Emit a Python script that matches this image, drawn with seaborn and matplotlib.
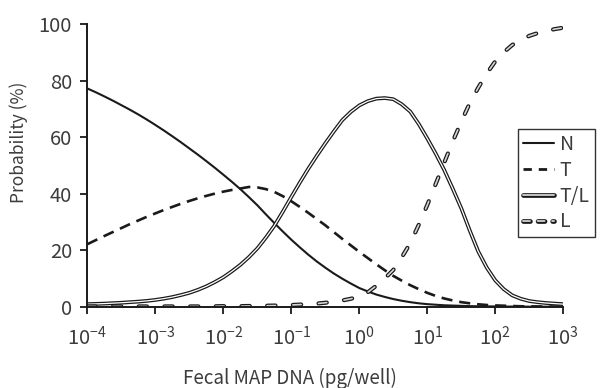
import numpy as np
import pandas as pd
import matplotlib
matplotlib.use("Agg")
import matplotlib.pyplot as plt
import matplotlib.patheffects as pe
from matplotlib.lines import Line2D
from matplotlib.ticker import NullLocator
import seaborn as sns

# x positions: log10 of fecal MAP DNA (pg/well), every 1/8 decade
log_dna = [-4.0, -3.875, -3.75, -3.625, -3.5, -3.375, -3.25, -3.125,
           -3.0, -2.875, -2.75, -2.625, -2.5, -2.375, -2.25, -2.125,
           -2.0, -1.875, -1.75, -1.625, -1.5, -1.375, -1.25, -1.125,
           -1.0, -0.875, -0.75, -0.625, -0.5, -0.375, -0.25, -0.125,
           0.0, 0.125, 0.25, 0.375, 0.5, 0.625, 0.75, 0.875,
           1.0, 1.125, 1.25, 1.375, 1.5, 1.625, 1.75, 1.875,
           2.0, 2.125, 2.25, 2.375, 2.5, 2.625, 2.75, 2.875, 3.0]

# probabilities (%)
prob_n = [77.2, 75.85, 74.4, 72.9, 71.3, 69.7, 68.0, 66.2,
          64.3, 62.35, 60.3, 58.2, 56.0, 53.8, 51.5, 49.15,
          46.7, 44.2, 41.6, 38.8, 35.9, 32.7, 29.6, 26.6,
          23.7, 21.0, 18.4, 16.0, 13.8, 11.75, 9.9, 8.2,
          6.6, 5.4, 4.3, 3.45, 2.7, 2.1, 1.6, 1.2,
          0.9, 0.7, 0.5, 0.4, 0.3, 0.2, 0.15, 0.1,
          0.1, 0.05, 0.05, 0.05, 0.0, 0.0, 0.0, 0.0, 0.0]
prob_t = [22.1, 23.55, 25.0, 26.4, 27.8, 29.2, 30.5, 31.8,
          33.0, 34.2, 35.3, 36.4, 37.4, 38.35, 39.2, 40.0,
          40.7, 41.3, 41.8, 42.35, 42.2, 41.6, 40.6, 39.1,
          37.3, 35.3, 33.2, 31.0, 28.8, 26.4, 24.0, 21.7,
          19.4, 17.2, 15.0, 12.9, 10.9, 9.2, 7.6, 6.2,
          4.9, 3.8, 2.9, 2.2, 1.6, 1.2, 0.85, 0.6,
          0.45, 0.35, 0.25, 0.15, 0.1, 0.08, 0.05, 0.02, 0.0]
prob_tl = [0.9, 1.0, 1.1, 1.25, 1.4, 1.6, 1.8, 2.05,
           2.4, 2.85, 3.4, 4.1, 4.9, 5.95, 7.2, 8.7,
           10.4, 12.5, 14.8, 17.5, 20.6, 24.4, 28.6, 33.6,
           38.8, 43.9, 48.8, 53.4, 57.8, 62.0, 66.0, 68.9,
           71.2, 72.7, 73.6, 73.8, 73.4, 71.6, 69.0, 64.6,
           59.5, 54.1, 48.3, 41.7, 34.8, 26.9, 19.5, 13.8,
           9.3, 6.2, 4.0, 2.8, 2.0, 1.6, 1.3, 1.1, 0.9]
prob_l = [0.1, 0.1, 0.1, 0.1, 0.1, 0.1, 0.1, 0.1,
          0.1, 0.1, 0.1, 0.1, 0.1, 0.1, 0.1, 0.15,
          0.2, 0.2, 0.2, 0.25, 0.3, 0.35, 0.4, 0.5,
          0.6, 0.75, 0.9, 1.1, 1.4, 1.75, 2.2, 2.8,
          3.6, 5.1, 7.4, 10.0, 13.0, 17.5, 22.5, 29.0,
          36.0, 43.5, 51.0, 58.5, 65.5, 72.0, 77.5, 82.5,
          86.8, 90.0, 92.6, 94.4, 95.8, 96.8, 97.5, 98.2, 98.7]

groups = ["N", "T", "T/L", "L"]
x_ticks = [1e-4, 1e-3, 1e-2, 1e-1, 1e0, 1e1, 1e2, 1e3]
y_ticks = [0, 20, 40, 60, 80, 100]

df = pd.DataFrame({"dna": 10 ** np.array(log_dna),
                   "N": prob_n, "T": prob_t, "T/L": prob_tl, "L": prob_l})
long_df = df.melt(id_vars="dna", var_name="group", value_name="prob")

sns.set_theme(style="ticks")
plt.rcParams["font.family"] = ["Noto Sans CJK JP", "DejaVu Sans"]
plt.rcParams["lines.scale_dashes"] = False
plt.rcParams["axes.unicode_minus"] = False

ink = "#1a1a1a"
txt = "#3c3c3c"


def outline(w):
    return [pe.Stroke(linewidth=w, foreground=ink), pe.Normal()]


styles = {
    "N": dict(color=ink, lw=1.5),
    "T": dict(color=ink, lw=1.9, linestyle=(0, (8, 5))),
    "T/L": dict(color="white", lw=0.9, path_effects=outline(2.7)),
    "L": dict(color="#d4d4d4", lw=1.2, linestyle=(0, (6, 12.5)),
              dash_capstyle="round", path_effects=outline(3.0)),
}

fig = plt.figure(figsize=(6.08, 3.88), dpi=100)
ax = fig.add_axes([87.3 / 608, 1 - 306.7 / 388, 476 / 608, 282.7 / 388])

for g in groups:
    sns.lineplot(data=long_df[long_df["group"] == g], x="dna", y="prob",
                 ax=ax, errorbar=None, legend=False, **styles[g])

ax.set_xscale("log")
ax.set_xlim(1e-4, 1e3)
ax.set_ylim(0, 100)
ax.set_xticks(x_ticks)
ax.xaxis.set_minor_locator(NullLocator())
ax.set_yticks(y_ticks)

ax.set_xlabel("Fecal MAP DNA (pg/well)", fontsize=13.5, color=txt)
ax.xaxis.set_label_coords(0.426, -0.215)
ax.set_ylabel("Probability (%)", fontsize=12.5, color=txt)
ax.yaxis.set_label_coords(-0.125, 0.58)
ax.tick_params(axis="both", labelsize=14.5, colors=txt, length=5, width=1.3,
               color=ink)
ax.tick_params(axis="x", pad=9)
ax.tick_params(axis="y", pad=6)
sns.despine(ax=ax)
for s in ["left", "bottom"]:
    ax.spines[s].set_linewidth(1.4)
    ax.spines[s].set_color(ink)

# legend proxies (the legend draws the double lines a bit heavier)
handles = [
    Line2D([], [], color=ink, lw=1.5),
    Line2D([], [], color=ink, lw=2.0, linestyle=(0, (6, 5))),
    Line2D([], [], color="#c4c4c4", lw=1.4, solid_capstyle="round",
           path_effects=outline(3.4)),
    Line2D([], [], color="#c4c4c4", lw=1.4, linestyle=(0, (5, 5.5)),
           dash_capstyle="round", path_effects=outline(3.4)),
]
leg = ax.legend(handles, groups, loc="upper left",
                bbox_to_anchor=(518 / 608, 1 - 129 / 388),
                bbox_transform=fig.transFigure, frameon=True, fancybox=False,
                edgecolor="#333333", framealpha=1, fontsize=14,
                handlelength=1.6, handletextpad=0.3, labelspacing=0.25,
                borderpad=0.25, borderaxespad=0)
leg.get_frame().set_linewidth(1.0)
for t in leg.get_texts():
    t.set_color(txt)

fig.savefig("out.png", dpi=100)
